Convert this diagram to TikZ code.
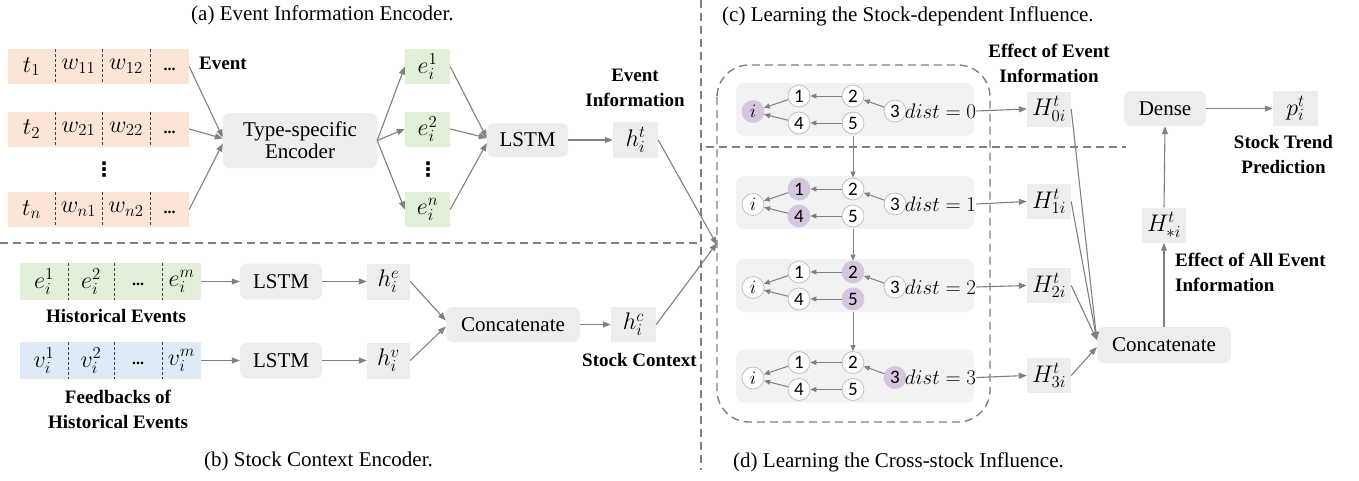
\RequirePackage{fix-cm}
\documentclass[tikz,border=0pt]{standalone}
\usepackage{fontspec}
\setmainfont{Liberation Serif}
\newfontfamily\numfam{Carlito}
\newfontfamily\symfam{DejaVu Sans}
\usetikzlibrary{arrows.meta,calc}
\definecolor{peach}{HTML}{FBE5D6}
\definecolor{lgreen}{HTML}{E2F0D9}
\definecolor{lblue}{HTML}{DEEBF7}
\definecolor{boxgray}{HTML}{EDEDED}
\definecolor{rowgray}{HTML}{F2F2F2}
\definecolor{lpurple}{HTML}{D5C5DF}
\definecolor{arrgray}{HTML}{808080}
\definecolor{circgray}{HTML}{BFBFBF}
\newcommand\mainsz{\fontsize{21}{24}\selectfont}
\newcommand\mathsz{\fontsize{24}{26}\selectfont}
\newcommand\labsz{\fontsize{19}{25}\selectfont}
\newcommand\capsz{\fontsize{21}{24}\selectfont}
\newcommand\numsz{\numfam\fontsize{19}{20}\selectfont}
\newcommand\dotsz{\fontsize{16}{16}\selectfont\bfseries}
\tikzset{
  gbox/.style={fill=boxgray, rounded corners=7pt, inner sep=0pt, align=center, font=\mainsz},
  sqbox/.style={fill=boxgray, inner sep=0pt, minimum width=45pt, minimum height=35pt, font=\mathsz},
  cellrow/.style={inner sep=0pt, minimum width=181pt},
  celltext/.style={inner sep=0pt, font=\mathsz},
  dotcell/.style={inner sep=0pt, font=\dotsz},
  vdotcell/.style={inner sep=0pt, font=\symfam\bfseries\fontsize{20}{20}\selectfont},
  arr/.style={draw=arrgray, line width=1.1pt, -{Triangle[length=8pt,width=6pt]}},
  sarr/.style={draw=arrgray, line width=1pt, -{Triangle[length=6pt,width=5pt]}},
  sep/.style={draw=arrgray, line width=1.4pt, dash pattern=on 8pt off 5pt},
  div/.style={draw=black!75, line width=0.7pt, dash pattern=on 3pt off 2pt},
  gnode/.style={circle, draw=circgray, fill=white, line width=0.8pt, minimum size=22pt, inner sep=0pt, font=\numsz},
  hl/.style={fill=lpurple, draw=lpurple},
  nohl/.style={},
  blab/.style={font=\labsz\bfseries, align=center, inner sep=0pt},
  captxt/.style={font=\capsz, inner sep=0pt},
  rowbox/.style={fill=rowgray, rounded corners=8pt, minimum width=238pt, minimum height=53pt, inner sep=0pt}
}
\begin{document}
\begin{tikzpicture}[x=1pt,y=-1pt]
\useasboundingbox (0,0) rectangle (1359,480);

% separators
\draw[sep] (701,0) -- (701,470);
\draw[sep] (0,243) -- (701,243);
\draw[sep] (706,147) -- (1126,147);
\draw[sep, rounded corners=32pt] (717,65) rectangle (990,422);

% captions
\node[captxt, anchor=west] (capa) at (191,15) {(a) Event Information Encoder.};
\node[captxt, anchor=west] (capc) at (722,16) {(c) Learning the Stock-dependent Influence.};
\node[captxt, anchor=west] (capb) at (204,461) {(b) Stock Context Encoder.};
\node[captxt, anchor=west] (capd) at (733,462) {(d) Learning the Cross-stock Influence.};

% ---------- (a) ----------
\foreach \n/\y/\a/\b/\c in {1/66.5/1/11/12, 2/129/2/21/22, 3/209.5/n/n1/n2}{
  \node[cellrow, fill=peach, minimum height=35pt] (ev\n) at (98.5,\y) {};
  \draw[div] (55,\y-17.5) -- (55,\y+17.5);
  \draw[div] (102,\y-17.5) -- (102,\y+17.5);
  \draw[div] (150,\y-17.5) -- (150,\y+17.5);
  \node[celltext] (evt\n) at (31.5,\y) {$t_{\a}$};
  \node[celltext] (evw\n a) at (78.5,\y) {$w_{\b}$};
  \node[celltext] (evw\n b) at (126,\y) {$w_{\c}$};
  \node[dotcell] (evd\n) at (169.5,\y+3) {...};
}
\node[vdotcell] (vd1) at (104,170) {⋮};
\node[blab, anchor=west] (lev) at (199,63) {Event};

\node[gbox, minimum width=154pt, minimum height=55pt] (enc) at (300,140.5) {Type-specific\\[-2pt]Encoder};
\node[sqbox, fill=lgreen] (e1) at (427.5,66.5) {$e_i^1$};
\node[sqbox, fill=lgreen] (e2) at (427.5,129) {$e_i^2$};
\node[sqbox, fill=lgreen] (en) at (427.5,209.5) {$e_i^n$};
\node[vdotcell] (vd2) at (428,170) {⋮};
\node[gbox, minimum width=81pt, minimum height=34pt] (lstm1) at (527.5,140) {LSTM};
\node[sqbox, minimum height=36pt] (ht) at (635.5,140) {$h_i^t$};
\node[blab] (lei) at (635,87.5) {Event\\Information};
\coordinate (tipA) at (717,245);

\draw[arr] (ev1.east) -- ($(enc.west)+(0,-3)$);
\draw[arr] (ev2.east) -- ($(enc.west)+(0,-2)$);
\draw[arr] (ev3.east) -- ($(enc.west)+(0,3)$);
\draw[arr] (enc.east) -- (e1.west);
\draw[arr] (enc.east) -- (e2.west);
\draw[arr] (enc.east) -- (en.west);
\draw[arr] (e1.east) -- ($(lstm1.west)+(0,-2)$);
\draw[arr] (e2.east) -- ($(lstm1.west)+(0,-2)$);
\draw[arr] (en.east) -- ($(lstm1.west)+(0,3)$);
\draw[arr] (lstm1.east) -- (ht.west);
\draw[arr] (ht.east) -- (tipA);

% ---------- (b) ----------
\node[cellrow, fill=lgreen, minimum height=37pt] (hist) at (110.5,281.5) {};
\node[cellrow, fill=lblue, minimum height=37pt] (fb) at (110.5,360.5) {};
\foreach \x in {68,114,162}{
  \draw[div] (\x,263) -- (\x,300);
  \draw[div] (\x,342) -- (\x,379);
}
\node[celltext] (h1) at (44,281.5) {$e_i^1$};
\node[celltext] (h2) at (91,281.5) {$e_i^2$};
\node[dotcell] (h3) at (138,284.5) {...};
\node[celltext] (h4) at (181.5,281.5) {$e_i^m$};
\node[celltext] (f1) at (44,360.5) {$v_i^1$};
\node[celltext] (f2) at (91,360.5) {$v_i^2$};
\node[dotcell] (f3) at (138,363.5) {...};
\node[celltext] (f4) at (181.5,360.5) {$v_i^m$};
\node[blab] (lhist) at (116,316) {Historical Events};
\node[blab] (lfb) at (118,409.5) {Feedbacks of\\Historical Events};

\node[gbox, minimum width=82pt, minimum height=36pt] (lstm2) at (281,281.5) {LSTM};
\node[gbox, minimum width=82pt, minimum height=36pt] (lstm3) at (281,360.5) {LSTM};
\node[sqbox, minimum width=43pt, minimum height=36pt] (he) at (388.5,281.5) {$h_i^e$};
\node[sqbox, minimum width=43pt, minimum height=36pt] (hv) at (388.5,360.5) {$h_i^v$};
\node[gbox, minimum width=134pt, minimum height=35pt] (cat1) at (513,324.5) {Concatenate};
\node[sqbox] (hc) at (633.5,324.5) {$h_i^c$};
\node[blab] (lsc) at (639.5,360) {Stock Context};
\coordinate (tipB) at (717,243);

\draw[arr] (hist.east) -- (lstm2.west);
\draw[arr] (fb.east) -- (lstm3.west);
\draw[arr] (lstm2.east) -- (he.west);
\draw[arr] (lstm3.east) -- (hv.west);
\draw[arr] (he.east) -- ($(cat1.west)+(0,-4)$);
\draw[arr] (hv.east) -- ($(cat1.west)+(0,2)$);
\draw[arr] (cat1.east) -- (hc.west);
\draw[arr] (hc.east) -- (tipB);

% ---------- (c)/(d) ----------
\foreach \k/\c/\si/\sa/\sb/\sc in {0/109.5/hl/nohl/nohl/nohl, 1/202.5/nohl/hl/nohl/nohl, 2/285.5/nohl/nohl/hl/nohl, 3/376/nohl/nohl/nohl/hl}{
  \node[rowbox] (row\k) at (855,\c) {};
  \node[gnode,\si] (g\k-i) at (753,\c+2) {$i$};
  \node[gnode,\sa] (g\k-1) at (799,\c-13.5) {1};
  \node[gnode,\sa] (g\k-4) at (799,\c+13.5) {4};
  \node[gnode,\sb] (g\k-2) at (853,\c-13.5) {2};
  \node[gnode,\sb] (g\k-5) at (853,\c+13.5) {5};
  \node[gnode,\sc] (g\k-3) at (895,\c+1.5) {3};
  \node[inner sep=0pt, font=\fontsize{21}{22}\selectfont] (d\k) at (940.5,\c+1.5) {$dist=\k$};
  \draw[sarr] (g\k-2) -- (g\k-1);
  \draw[sarr] (g\k-1) -- (g\k-i);
  \draw[sarr] (g\k-4) -- (g\k-i);
  \draw[sarr] (g\k-5) -- (g\k-4);
  \draw[sarr] (g\k-3) -- (g\k-2);
}
\draw[sarr] (row0.south -| g0-2) -- (g1-2.north);
\draw[sarr] (row1.south -| g1-2) -- (g2-2.north);
\draw[sarr] (row2.south -| g2-2) -- (g3-2.north);

\node[sqbox, minimum width=44pt] (H0) at (1049,109) {$H_{0i}^t$};
\node[sqbox, minimum width=44pt] (H1) at (1049,201.5) {$H_{1i}^t$};
\node[sqbox, minimum width=44pt] (H2) at (1049,285.5) {$H_{2i}^t$};
\node[sqbox, minimum width=44pt] (H3) at (1049,375.5) {$H_{3i}^t$};
\foreach \k in {0,1,2,3}{ \draw[arr] (d\k.east) -- (H\k.west); }
\node[blab] (leei) at (1049,63) {Effect of Event\\Information};

\node[gbox, minimum width=134pt, minimum height=36pt] (cat2) at (1164,345) {Concatenate};
\node[sqbox, minimum width=44pt] (Hs) at (1164,225) {$H_{*i}^t$};
\node[gbox, minimum width=82pt, minimum height=35pt] (dense) at (1165,108.5) {Dense};
\node[sqbox] (pt) at (1295.5,108.5) {$p_i^t$};
\node[blab] (lstp) at (1283.5,154.5) {Stock Trend\\Prediction};
\node[blab, align=left, anchor=west] (leaei) at (1175,272) {Effect of All Event\\Information};

\draw[arr] (H0.east) -- ($(cat2.west)+(0,-5)$);
\draw[arr] (H1.east) -- ($(cat2.west)+(0,-5)$);
\draw[arr] (H2.east) -- ($(cat2.west)+(0,-5)$);
\draw[arr] (H3.east) -- ($(cat2.west)+(0,2)$);
\draw[arr] (cat2.north) -- (Hs.south);
\draw[arr] (Hs.north) -- (dense.south);
\draw[arr] (dense.east) -- (pt.west);
\end{tikzpicture}
\end{document}
